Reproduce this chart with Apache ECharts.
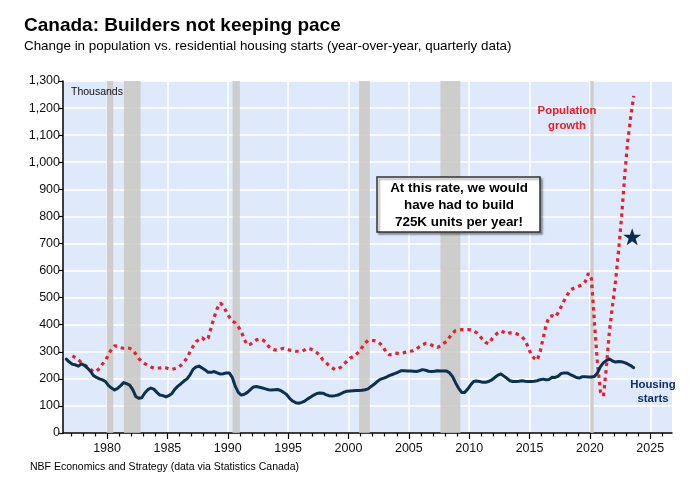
<!DOCTYPE html>
<html><head><meta charset="utf-8">
<script src="https://cdn.jsdelivr.net/npm/echarts@6/dist/echarts.min.js"></script>
<style>html,body{margin:0;padding:0;background:#fff}#c{width:690px;height:481px}</style>
</head><body><div id="c"></div>
<script>
// ---- data (thousands, year-over-year, quarterly) ----
const housingFirstQuarter = 1976.625; // Q3 1976 (mid-quarter)
const housingStarts = [
  273, 262,
  254, 252, 247, 255,  250, 240, 228, 212,  205, 200, 196, 190,
  175, 166, 159, 165,  175, 186, 182, 177,  160, 135, 128, 130,
  148, 160, 166, 162,  150, 140, 138, 134,  138, 146, 162, 173,
  182, 192, 200, 215,  235, 244, 247, 240,  233, 224, 224, 227,
  222, 218, 219, 222,  222, 205, 172, 150,  140, 143, 150, 160,
  170, 172, 169, 166,  163, 160, 159, 160,  161, 157, 150, 142,
  128, 118, 112, 110,  113, 118, 126, 133,  140, 146, 148, 147,
  142, 138, 137, 138,  140, 145, 151, 154,  155, 156, 157, 157,
  158, 160, 163, 172,  180, 190, 198, 202,  206, 212, 216, 220,
  225, 230, 230, 229,  229, 228, 227, 230,  234, 232, 228, 227,
  228, 230, 229, 229,  229, 222, 208, 185,  165, 150, 150, 162,
  178, 190, 192, 190,  187, 187, 191, 196,  205, 214, 218, 210,
  202, 193, 190, 190,  191, 193, 191, 190,  190, 191, 193, 197,
  199, 197, 198, 206,  205, 210, 220, 222,  222, 216, 211, 205,
  203, 208, 208, 207,  207, 209, 222, 245,  260, 268, 273, 266,
  262, 264, 263, 260,  255, 249, 241
];
const popFirstQuarter = 1977.125; // Q1 1977 (mid-quarter)
const populationGrowth = [
  285, 278, 270, 260,  252, 244, 235, 226,  229, 238, 255, 268,
  290, 310, 322, 321,  315, 313, 315, 313,  306, 292, 275, 264,
  256, 250, 244, 240,  240, 240, 243, 241,  237, 235, 238, 242,
  250, 262, 278, 300,  320, 337, 346, 352,  342, 350, 390, 428,
  460, 480, 470, 448,  428, 414, 406, 392,  375, 345, 325, 328,
  337, 344, 347, 344,  336, 320, 311, 307,  306, 310, 313, 310,
  306, 304, 302, 302,  302, 307, 313, 310,  305, 297, 286, 270,
  260, 250, 242, 234,  237, 243, 255, 265,  276, 282, 290, 300,
  316, 332, 342, 342,  341, 339, 330, 318,  298, 289, 290, 295,
  294, 294, 297, 300,  302, 304, 310, 319,  326, 331, 330, 325,
  320, 316, 322, 331,  338, 354, 370, 378,  381, 382, 382, 382,
  381, 377, 370, 358,  345, 334, 330, 347,  360, 370, 377, 372,
  366, 370, 370, 367,  363, 355, 342, 318,  290, 276, 268, 300,
  350, 400, 430, 433,  428, 445, 467, 490,  510, 528, 534, 538,
  543, 548, 560, 590,  570, 408, 257, 152,  137, 248, 380, 472,
  561, 674, 799, 948,  1074, 1166, 1245
];
const requiredBuild = [[2023.5, 725]];
const recessions = [[1979.97, 1980.51], [1981.40, 1982.78], [1990.40, 1991.0], [2000.88, 2001.76], [2007.62, 2009.27], [2020.03, 2020.31]];
const yearLabels = [1980, 1985, 1990, 1995, 2000, 2005, 2010, 2015, 2020, 2025];
const minorYears = [1977,1978,1979,1981,1982,1983,1984,1986,1987,1988,1989,1991,1992,1993,1994,1996,1997,1998,1999,2001,2002,2003,2004,2006,2007,2008,2009,2011,2012,2013,2014,2016,2017,2018,2019,2021,2022,2023,2024,2026];
const yMin = 0, yMax = 1300, yStep = 100;
const xMin = 1976.35, xMax = 2026.8;

const FONT = '"Liberation Sans", Arial, sans-serif';
const toPairs = (start, arr) => arr.map((v, i) => [start + i * 0.25, v]);

const chart = echarts.init(document.getElementById('c'), null, {renderer: 'canvas'});
chart.setOption({
  animation: false,
  textStyle: {fontFamily: FONT},
  grid: {left: 63, right: 18, top: 81, bottom: 48, show: true, backgroundColor: '#dee9fb', borderWidth: 0},
  xAxis: [{
    type: 'value', min: xMin, max: xMax,
    axisLine: {show: true, onZero: false, lineStyle: {color: '#000', width: 1.5}},
    axisTick: {show: true, customValues: yearLabels, length: 6, lineStyle: {color: '#000', width: 1.2}},
    axisLabel: {customValues: yearLabels, margin: 9, color: '#111', fontSize: 12.5, fontFamily: FONT, formatter: v => String(v)},
    splitLine: {show: true, lineStyle: {color: '#ffffff', width: 1.5}}
  }, {
    type: 'value', min: xMin, max: xMax, position: 'bottom',
    axisLine: {show: false},
    axisTick: {show: true, customValues: minorYears, length: 3.5, lineStyle: {color: '#000', width: 1.2}},
    axisLabel: {show: false},
    splitLine: {show: false}
  }],
  yAxis: {
    type: 'value', min: yMin, max: yMax, interval: yStep,
    axisLine: {show: true, lineStyle: {color: '#000', width: 1.5}},
    axisTick: {show: true, length: 4, lineStyle: {color: '#000', width: 1.2}},
    axisLabel: {margin: 3, color: '#111', fontSize: 12.5, fontFamily: FONT, formatter: v => v.toLocaleString('en-US')},
    splitLine: {show: true, lineStyle: {color: '#ffffff', width: 1.5}}
  },
  series: [{
    type: 'line', name: 'bands', data: [], silent: true, z: 1,
    markArea: {silent: true, itemStyle: {color: 'rgba(200,197,192,0.8)'},
      data: recessions.map(r => [{xAxis: r[0], yAxis: yMin}, {xAxis: r[1], yAxis: yMax}])}
  }, {
    type: 'line', name: 'Population growth', data: toPairs(popFirstQuarter, populationGrowth),
    showSymbol: false, symbol: 'none', z: 3,
    lineStyle: {color: '#e8202a', width: 3.2, type: [3.5, 4], cap: 'butt'}
  }, {
    type: 'line', name: 'Housing starts', data: toPairs(housingFirstQuarter, housingStarts),
    showSymbol: false, symbol: 'none', z: 4,
    lineStyle: {color: '#0b3050', width: 3, join: 'round', cap: 'round'}
  }, {
    type: 'scatter', name: 'Needed', data: requiredBuild, z: 5,
    symbol: 'path://M50,0 L61.8,35.1 L98.1,35.1 L68.8,56.7 L79.4,91 L50,70 L20.6,91 L31.2,56.7 L1.9,35.1 L38.2,35.1 Z',
    symbolSize: [18, 17], itemStyle: {color: '#0c2b4e', opacity: 1}
  }],
  graphic: [
    {type: 'text', x: 24, y: 26, z: 100, style: {text: 'Canada: Builders not keeping pace', font: 'bold 19px ' + FONT, fill: '#000', align: 'left', verticalAlign: 'middle'}},
    {type: 'text', x: 24, y: 46, z: 100, style: {text: 'Change in population vs. residential housing starts (year-over-year, quarterly data)', font: '13.4px ' + FONT, fill: '#000', align: 'left', verticalAlign: 'middle'}},
    {type: 'text', x: 30, y: 467, z: 100, style: {text: 'NBF Economics and Strategy (data via Statistics Canada)', font: '10.5px ' + FONT, fill: '#000', align: 'left', verticalAlign: 'middle'}},
    {type: 'text', x: 71, y: 92, z: 100, style: {text: 'Thousands', font: '10.5px ' + FONT, fill: '#111', align: 'left', verticalAlign: 'middle'}},
    {type: 'text', x: 567, y: 118, z: 100, style: {text: 'Population\ngrowth', font: 'bold 11.4px ' + FONT, fill: '#ee1c25', align: 'center', verticalAlign: 'middle', lineHeight: 15}},
    {type: 'text', x: 653, y: 392, z: 100, style: {text: 'Housing\nstarts', font: 'bold 11.4px ' + FONT, fill: '#142d6b', align: 'center', verticalAlign: 'middle', lineHeight: 14}},
    {type: 'rect', z: 100, shape: {x: 377, y: 177, width: 163, height: 55},
      style: {fill: '#ffffff', stroke: '#333', lineWidth: 1.5, shadowColor: 'rgba(0,0,0,0.35)', shadowOffsetX: 2, shadowOffsetY: 2, shadowBlur: 2}},
    {type: 'text', x: 459, y: 205, z: 101, style: {text: 'At this rate, we would\nhave had to build\n725K units per year!', font: 'bold 13.4px ' + FONT, fill: '#000', align: 'center', verticalAlign: 'middle', lineHeight: 17}}
  ]
});
</script></body></html>
